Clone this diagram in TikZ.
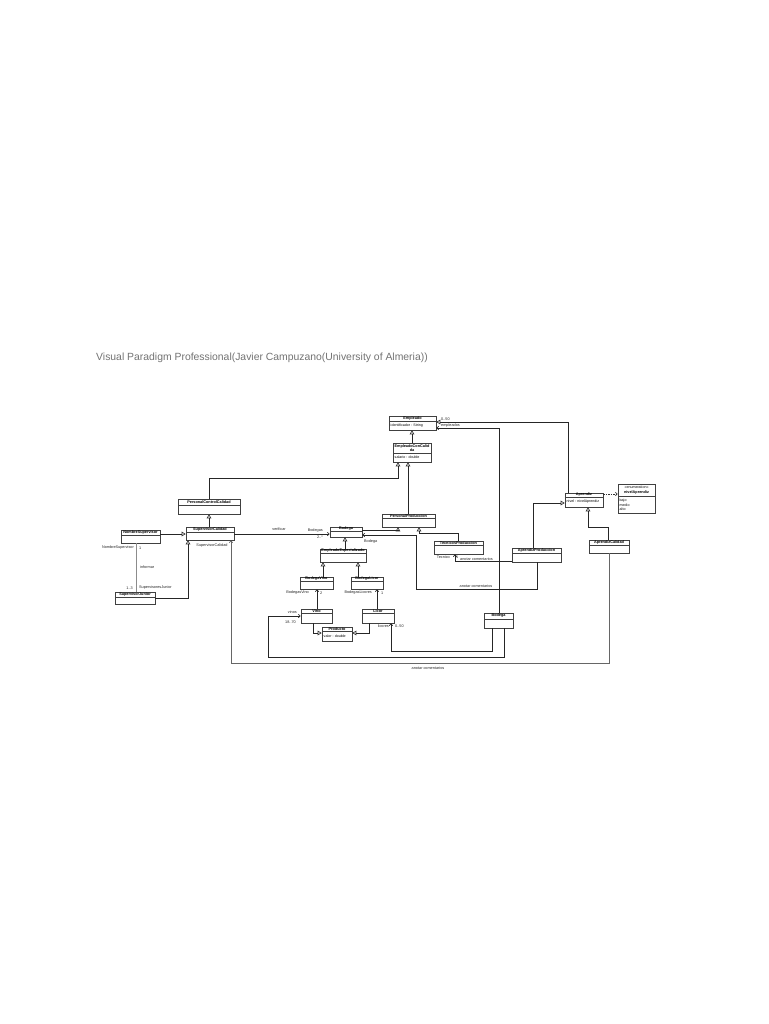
\documentclass[tikz,border=0pt]{standalone}
\usepackage{fontspec}
\setmainfont{Liberation Sans}
\usetikzlibrary{arrows.meta,fit,calc}
\tikzset{
  clsbox/.style={draw=black!75, line width=0.6pt, fill=white, inner sep=0pt},
  sepline/.style={draw=black!75, line width=0.5pt},
  clsname/.style={font=\fontsize{3.8}{4.3}\selectfont\bfseries, inner sep=0pt, align=center},
  clsattr/.style={font=\fontsize{3.6}{4.1}\selectfont, inner sep=0pt},
  lbl/.style={font=\fontsize{3.8}{4.2}\selectfont, inner sep=0pt, text=black!85},
  gen/.style={draw=black!85, line width=1pt, -{Triangle[open,length=4pt,width=4.5pt,line width=0.6pt]}},
  nav/.style={draw=black!85, line width=1pt, -{Straight Barb[length=2pt,width=3.5pt,line width=0.6pt]}},
  navthin/.style={draw=black!60, line width=0.8pt, -{Straight Barb[length=2pt,width=3.5pt,line width=0.6pt]}},
  assocthin/.style={draw=black!45, line width=0.7pt},
  dep/.style={draw=black!80, line width=0.6pt, dashed, dash pattern=on 1.5pt off 1pt, -{Straight Barb[length=2pt,width=3.5pt]}},
}
\newcommand\umlc[8]{%
  \node[clsbox, fit={(#2,#3) (#4,#5)}] (#1) {};
  \draw[sepline] (#2,#6) -- (#4,#6);
  \node[clsname] at ({(#2+#4)/2},{(#3+#6)/2}) {#7};
  \node[clsattr, anchor=west] at ({#2+1.5},{(#6+#5)/2}) {#8};
}
\begin{document}
\begin{tikzpicture}[x=1pt,y=-1pt]
\useasboundingbox (0,0) rectangle (768,1024);
\fill[white] (0,0) rectangle (768,1024);

% title
\node[anchor=west, inner sep=0pt, text=black!55, font=\fontsize{10.4}{12}\selectfont] (title) at (96,358) {Visual Paradigm Professional(Javier Campuzano(University of Almeria))};

% classes
\umlc{emp}{389}{416}{436}{430}{421}{Empleado}{identificador : String}
\umlc{ecc}{393}{443}{431}{462}{453}{EmpleadoConCalid\\da}{salario : double}
\umlc{pcc}{178}{499}{240}{514}{505}{PersonalControlCalidad}{}
\umlc{sc}{186}{527}{234}{540}{532}{SupervisorCalidad}{}
\umlc{ns}{121}{530}{160}{543}{535}{NombreSupervisor}{}
\umlc{sj}{115}{592}{155}{604}{597}{SupervisorJunior}{}
\umlc{bod}{330}{527}{362}{537}{531}{Bodega}{}
\umlc{ee}{320}{549}{366}{562}{553}{EmpleadoEspecializado}{}
\umlc{bv}{300}{577}{333}{589}{581}{BodegaVino}{}
\umlc{bl}{351}{577}{383}{589}{581}{BodegaLicor}{}
\umlc{vino}{301}{609}{332}{623}{613}{Vino}{}
\umlc{licor}{362}{609}{394}{623}{613}{Licor}{}
\umlc{prod}{322}{627}{352}{641}{631}{Producto}{valor : double}
\umlc{pp}{382}{514}{435}{527}{518}{PersonalProduccion}{}
\umlc{tp}{434}{541}{483}{554}{545}{TecnicosProduccion}{}
\umlc{ap}{512}{548}{561}{562}{553}{AprendizProduccion}{}
\umlc{apz}{565}{493}{603}{507}{497}{Aprendiz}{nivel : nivelAprendiz}
\umlc{ac}{589}{540}{629}{553}{545}{AprendizCalidad}{}
\umlc{bodb}{484}{613}{513}{628}{619}{Bodega}{}

% enumeration
\node[clsbox, fit={(618,484) (655,513)}] (niv) {};
\node[clsattr] (nivst) at (636.5,487.5) {<<enumeration>>};
\node[clsname] (nivnm) at (636.5,492.5) {nivelAprendiz};
\draw[sepline] (618,496) -- (655,496);
\node[clsattr, anchor=west] (l1) at (619.5,501) {bajo};
\node[clsattr, anchor=west] (l2) at (619.5,505) {medio};
\node[clsattr, anchor=west] (l3) at (619.5,509) {alto};

% generalizations
\draw[gen] (ecc.north) -- (ecc.north |- emp.south);
\draw[gen] (pcc.north -| 209,0) |- (398,478) -- (ecc.south -| 398,0);
\draw[gen] (pp.north -| 408,0) -- (ecc.south -| 408,0);
\draw[gen] (sc.north -| 209,0) -- (pcc.south -| 209,0);
\draw[gen] (ns.east |- 0,534) -- (sc.west |- 0,534);
\draw[gen] (sj.east |- 0,598) -| (sc.south -| 188,0);
\draw[gen] (bod.east |- 0,530) -| (pp.south -| 398,0);
\draw[gen] (tp.north) |- (419,533) -- (pp.south -| 419,0);
\draw[gen] (ee.north -| 345,0) -- (bod.south -| 345,0);
\draw[gen] (bv.north -| 323,0) -- (ee.south -| 323,0);
\draw[gen] (bl.north -| 358,0) -- (ee.south -| 358,0);
\draw[gen] (vino.south -| 313,0) |- (prod.west |- 0,633);
\draw[gen] (licor.south -| 369,0) |- (prod.east |- 0,633);
\draw[gen] (ap.north -| 533,0) |- (apz.west |- 0,503);
\draw[gen] (ac.north -| 608,0) |- (588,527) -- (apz.south -| 588,0);
\draw[gen] (apz.north -| 568,0) |- (emp.east |- 0,422);

% dependency
\draw[dep] (apz.east |- 0,494) -- (niv.west |- 0,494);

% associations
\draw[nav] (bodb.north -| 499,0) |- (emp.east |- 0,428);
\draw[nav] (sc.east |- 0,534) -- (bod.west |- 0,534);
\draw[assocthin] (ns.south -| 136,0) -- (sj.north -| 136,0);
\draw[navthin] (ac.south -| 609,0) |- (231,663) -- (sc.south -| 231,0);
\draw[nav] (ap.south -| 537,0) |- (416,589) |- (bod.east |- 0,535);
\draw[nav] (ap.west |- 0,561) -| (tp.south -| 455,0);
\draw[nav] (vino.north -| 317,0) -- (bv.south -| 317,0);
\draw[nav] (licor.north -| 377,0) -- (bl.south -| 377,0);
\draw[nav] (bodb.south -| 504,0) |- (268,657) |- (vino.west |- 0,616);
\draw[nav] (bodb.south -| 492,0) |- (391,651) -- (licor.south -| 391,0);

% labels
\node[lbl, anchor=west] (t1) at (441,419.5) {0..50};
\node[lbl, anchor=west] (t2) at (441,426) {empleados};
\node[lbl] (t3) at (279,529.5) {verificar};
\node[lbl, anchor=east] (t4) at (323,530.5) {Bodegas};
\node[lbl, anchor=east] (t5) at (323,537) {2..*};
\node[lbl, anchor=west] (t6) at (364,541.5) {Bodega};
\node[lbl, anchor=east] (t7) at (134,548) {NombreSupervisor};
\node[lbl, anchor=west] (t8) at (139,548) {1};
\node[lbl, anchor=west] (t9) at (140,567) {informar};
\node[lbl, anchor=east] (t10) at (133,588) {1..3};
\node[lbl, anchor=west] (t11) at (139,588) {SupervisoresJunior};
\node[lbl] (t12) at (212,545.5) {SupervisorCalidad};
\node[lbl] (t13) at (428,668.5) {anotar comentarios};
\node[lbl] (t14) at (476,586.5) {anotar comentarios};
\node[lbl, anchor=east] (t15) at (450,557) {Tecnico};
\node[lbl, anchor=west] (t16) at (456,557) {1};
\node[lbl, anchor=west] (t17) at (460,559) {anotar comentarios};
\node[lbl, anchor=east] (t18) at (309,593) {BodegasVino};
\node[lbl, anchor=west] (t19) at (320,593) {2};
\node[lbl, anchor=east] (t20) at (372,593) {BodegasLicores};
\node[lbl, anchor=west] (t21) at (381,593) {1};
\node[lbl, anchor=east] (t22) at (297,612) {vinos};
\node[lbl, anchor=east] (t23) at (296,622) {18..70};
\node[lbl, anchor=east] (t24) at (389,626) {licores};
\node[lbl, anchor=west] (t25) at (395,626) {0..50};
\end{tikzpicture}
\end{document}
